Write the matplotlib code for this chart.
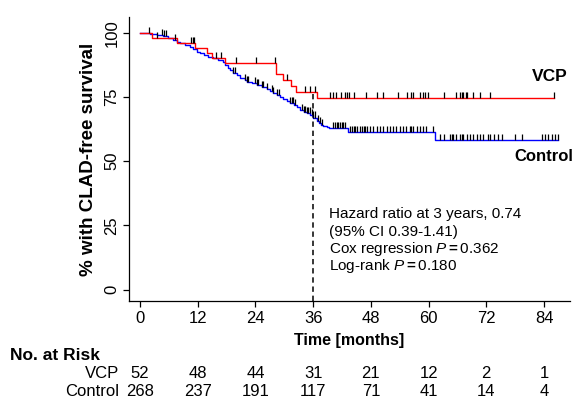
import numpy as np
import matplotlib
matplotlib.use("Agg")
import matplotlib.pyplot as plt
import matplotlib.transforms as mtransforms

plt.rcParams['font.family'] = ['Liberation Sans', 'DejaVu Sans']
plt.rcParams['mathtext.fontset'] = 'custom'
plt.rcParams['mathtext.rm'] = 'Liberation Sans'
plt.rcParams['mathtext.it'] = 'Liberation Sans:italic'
plt.rcParams['mathtext.bf'] = 'Liberation Sans:bold'

# ---- data ----
vcp_times = [0, 2.4, 7.6, 11.4, 13.9, 14.9, 17.7, 28.2, 29.7, 31.4, 32.4, 36.9, 86.1]
vcp_surv = [100, 98.1, 96.0, 94.0, 92.1, 90.1, 88.2, 84.0, 81.7, 79.3, 77.1, 74.7, 74.7]
vcp_censor = [1.9, 3.5, 10.6, 11.0, 11.3, 15.9, 16.8, 20.0, 24.1, 28.1, 30.5, 34.3, 35.3, 36.4,
              39.5, 40.2, 40.7, 41.8, 42.6, 43.0, 43.5, 44.4, 47.0, 49.2, 50.6, 53.7, 55.6,
              56.3, 56.8, 58.2, 58.8, 59.3, 59.9, 63.1, 65.8, 66.5, 66.9, 67.2, 67.7, 68.0,
              69.2, 70.7, 72.8, 86.1]

ctl_times = [0, 2.1, 3.5, 4.8, 5.8, 6.9, 7.6, 8.3, 9.4, 10.4, 11.1, 11.8, 12.5, 13.2, 14.2,
             15.2, 16.3, 17.3, 17.7, 18.3, 18.7, 19.4, 20.1, 20.8, 21.8, 22.2, 23.2, 24.3,
             25.3, 26.3, 27.0, 27.7, 28.4, 29.1, 29.8, 30.5, 31.2, 32.0, 32.6, 33.3, 34.0,
             34.7, 35.4, 36.0, 36.7, 37.2, 37.7, 38.1, 38.8, 39.3, 43.3, 61.3, 87.0]
ctl_surv = [100, 99.6, 99.2, 98.8, 98.1, 97.3, 96.6, 96.0, 95.3, 94.7, 93.8, 92.7, 92.0, 91.4,
            90.7, 90.1, 89.4, 88.8, 87.5, 86.4, 85.6, 84.5, 83.6, 82.6, 81.7, 81.0, 80.3, 79.7,
            79.0, 78.2, 77.3, 76.6, 75.8, 74.9, 74.2, 73.5, 72.8, 72.0, 71.3, 69.8, 69.3, 68.7,
            68.0, 67.0, 65.6, 64.8, 64.2, 63.7, 63.2, 62.8, 61.5, 58.3, 58.3]
ctl_censor = [4.5, 5.0, 5.5, 7.3, 19.4, 19.8, 21.8, 22.2, 22.5, 23.9, 24.3, 24.6, 25.3, 25.6,
              26.3, 27.4, 27.7, 28.4, 28.8, 31.2, 31.5, 31.9, 32.2, 33.6, 34.0, 34.3, 34.7,
              35.0, 35.3, 35.7, 36.0, 36.4, 37.1, 37.4, 37.8, 40.2, 40.5, 40.9, 41.2, 41.6,
              41.9, 42.3, 42.6, 43.7, 44.0, 44.4, 44.7, 45.1, 45.8, 46.1, 46.5, 46.8, 47.2,
              47.8, 48.5, 49.2, 49.9, 50.6, 51.3, 51.9, 52.6, 53.3, 54.0, 54.7, 55.4, 56.1,
              56.4, 56.8, 57.5, 58.2, 58.8, 59.5, 60.9, 62.4, 63.1, 64.4, 64.8, 65.1, 65.8,
              66.5, 66.9, 67.2, 67.9, 68.6, 69.3, 70.0, 70.7, 71.4, 72.4, 72.8, 73.5, 74.5,
              75.2, 78.0, 79.4, 83.5, 84.2, 84.9, 85.6, 86.3, 87.0]

risk_times = [0, 12, 24, 36, 48, 60, 72, 84]
risk_vcp = [52, 48, 44, 31, 21, 12, 2, 1]
risk_ctl = [268, 237, 191, 117, 71, 41, 14, 4]
yticks = [0, 25, 50, 75, 100]


def step_at(times, surv, t):
    i = np.searchsorted(np.asarray(times), t, side='right') - 1
    return np.asarray(surv)[i]


fig = plt.figure(figsize=(5.74, 4.0), dpi=100)
ax = fig.add_axes([129 / 574, 1 - 301 / 400, (570 - 129) / 574, (301 - 17) / 400])
ax.set_xlim(-2.29, 89.4)
ax.set_ylim(-4.48, 106.2)

ax.step(ctl_times, ctl_surv, where='post', color='#0000FF', lw=1.0, zorder=3)
ax.step(vcp_times, vcp_surv, where='post', color='#FF0000', lw=1.0, zorder=3)

for times, surv, cens in [(vcp_times, vcp_surv, vcp_censor), (ctl_times, ctl_surv, ctl_censor)]:
    cy = np.array([step_at(times, surv, t) for t in cens])
    ax.vlines(cens, cy, cy + 2.4, color='black', lw=0.9, zorder=4)

ax.plot([36, 36], [-4.48, 77.1], color='black', lw=1.1, dashes=(3.5, 2.5), zorder=2)

for s in ['top', 'right']:
    ax.spines[s].set_visible(False)
for s in ['left', 'bottom']:
    ax.spines[s].set_linewidth(0.9)

ax.set_xticks(risk_times)
ax.set_xticklabels([str(v) for v in risk_times], fontsize=12)
ax.set_yticks(yticks)
ax.set_yticklabels([str(v) for v in yticks], fontsize=12, rotation=90, va='center')
ax.tick_params(direction='out', length=4, width=0.9, pad=3)
ax.set_xlabel('Time [months]', fontsize=11.5, fontweight='bold', labelpad=5)
ax.set_ylabel('% with CLAD-free survival', fontsize=13.5, fontweight='bold', labelpad=5)

ax.text(89.0, 83.2, 'VCP', fontsize=12.5, fontweight='bold', ha='right', va='center', clip_on=False)
ax.text(90.0, 51.7, 'Control', fontsize=12, fontweight='bold', ha='right', va='center', clip_on=False)

ann = ['Hazard ratio at 3 years, 0.74', '(95% CI 0.39-1.41)',
       r'Cox regression $\mathit{P}$$\mathbf{=}$0.362', r'Log-rank $\mathit{P}$$\mathbf{=}$0.180']
ann_y = [29.3, 22.6, 15.9, 9.2]
for s, y in zip(ann, ann_y):
    ax.text(39.3, y, s, fontsize=11, ha='left', va='center')

trans = mtransforms.blended_transform_factory(ax.transData, fig.transFigure)
fig.text(10 / 574, 1 - 355 / 400, 'No. at Risk', fontsize=12.5, fontweight='bold', ha='left', va='center')
fig.text(119 / 574, 1 - 373 / 400, 'VCP', fontsize=12, ha='right', va='center')
fig.text(119 / 574, 1 - 392 / 400, 'Control', fontsize=12, ha='right', va='center')
for t, a, b in zip(risk_times, risk_vcp, risk_ctl):
    ax.text(t, 1 - 373 / 400, str(a), transform=trans, fontsize=12, ha='center', va='center', clip_on=False)
    ax.text(t, 1 - 392 / 400, str(b), transform=trans, fontsize=12, ha='center', va='center', clip_on=False)

fig.savefig('out.png', dpi=100)
